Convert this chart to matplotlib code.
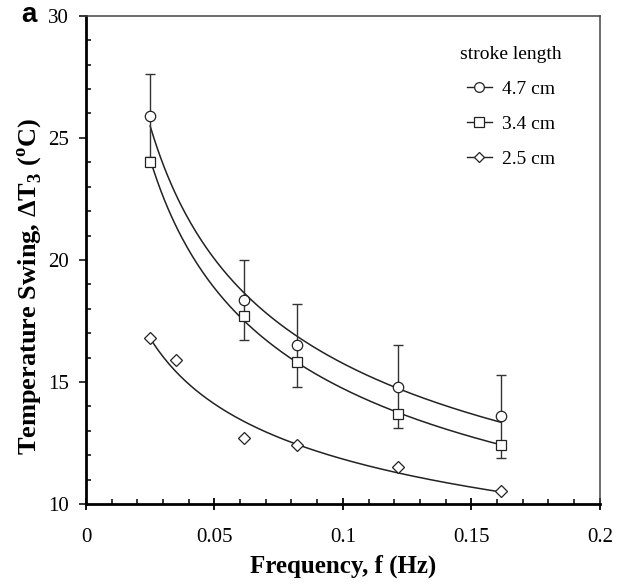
import numpy as np
import matplotlib
matplotlib.use('Agg')
import matplotlib.pyplot as plt
from matplotlib.ticker import MultipleLocator

plt.rcParams['font.family'] = ['Liberation Serif', 'DejaVu Serif']
plt.rcParams['mathtext.fontset'] = 'custom'
plt.rcParams['mathtext.rm'] = 'Liberation Serif'
plt.rcParams['mathtext.bf'] = 'Liberation Serif:bold'

# data
freq = [0.025, 0.0615, 0.082, 0.1215, 0.1615]
dT_47 = [25.9, 18.35, 16.5, 14.8, 13.6]
err_47 = [1.7, 1.65, 1.7, 1.7, 1.7]
dT_34 = [24.0, 17.7, 15.8, 13.7, 12.4]
freq_25 = [0.025, 0.035, 0.0615, 0.082, 0.1215, 0.1615]
dT_25 = [16.8, 15.9, 12.7, 12.4, 11.5, 10.55]
labels = ['4.7 cm', '3.4 cm', '2.5 cm']

fig = plt.figure(figsize=(6.32, 5.87), dpi=100)
ax = fig.add_axes([0.136, 0.1414, 0.813, 0.8316])

def power_fit(x, y):
    b, loga = np.polyfit(np.log(x), np.log(y), 1)
    xx = np.linspace(min(x), max(x), 200)
    return xx, np.exp(loga) * xx ** b

col = '#222222'
series = [(freq, dT_47, 'o', 7.5), (freq, dT_34, 's', 7.5), (freq_25, dT_25, 'D', 6)]
for (x, y, m, ms), lab in zip(series, labels):
    xx, yy = power_fit(np.array(x), np.array(y))
    ax.plot(xx, yy, color=col, lw=1.1, zorder=2)
    ax.plot(x, y, marker=m, ls='none', color=col, ms=ms, mfc='white',
            mew=0.9, zorder=4)
    # legend proxy
    ax.plot([], [], marker=m, ls='-', color=col, lw=1.0, ms=ms - 0.5,
            mfc='white', mew=0.9, label=lab)

ax.errorbar(freq, dT_47, yerr=err_47, fmt='none', ecolor='#333333',
            elinewidth=1.0, capsize=3.5, capthick=1.0, zorder=3)

ax.set_xlim(0, 0.2)
ax.set_ylim(10, 30)
ax.xaxis.set_minor_locator(MultipleLocator(0.01))
ax.yaxis.set_major_locator(MultipleLocator(5))
ax.yaxis.set_minor_locator(MultipleLocator(1))
ax.set_xticks([0, 0.05, 0.1, 0.15, 0.2])
ax.set_xticklabels(['0', '0.05', '0.1', '0.15', '0.2'])
ax.tick_params(axis='x', which='major', direction='inout', length=9, width=1.3,
               labelsize=15, pad=13)
ax.tick_params(axis='x', which='minor', direction='in', length=3.6, width=1.1)
ax.tick_params(axis='y', which='major', direction='out', length=5, width=1.1,
               labelsize=15, pad=7)
ax.tick_params(axis='y', which='minor', direction='in', length=3.6, width=1.1)

for s in ['left', 'bottom']:
    ax.spines[s].set_linewidth(2.0)
    ax.spines[s].set_color('black')
for s in ['top', 'right']:
    ax.spines[s].set_linewidth(1.1)
    ax.spines[s].set_color('#444444')

ax.set_xlabel('Frequency, f (Hz)', fontsize=18, fontweight='bold', labelpad=5)
ax.set_ylabel(r'Temperature Swing, $\mathbf{\Delta T}_\mathbf{3}$ ($^\mathbf{o}$C)',
              fontsize=19, fontweight='bold')
ax.yaxis.set_label_coords(-0.082, 0.445)

leg = ax.legend(title='stroke length', loc='upper right',
                bbox_to_anchor=(0.96, 0.975), frameon=False, fontsize=14,
                title_fontsize=14, handlelength=1.3, handletextpad=0.5,
                labelspacing=0.9)

fig.text(0.033, 0.975, 'a', fontsize=20, fontweight='bold',
         family='Liberation Sans', va='center', ha='left')

fig.savefig('out.png', dpi=100)
